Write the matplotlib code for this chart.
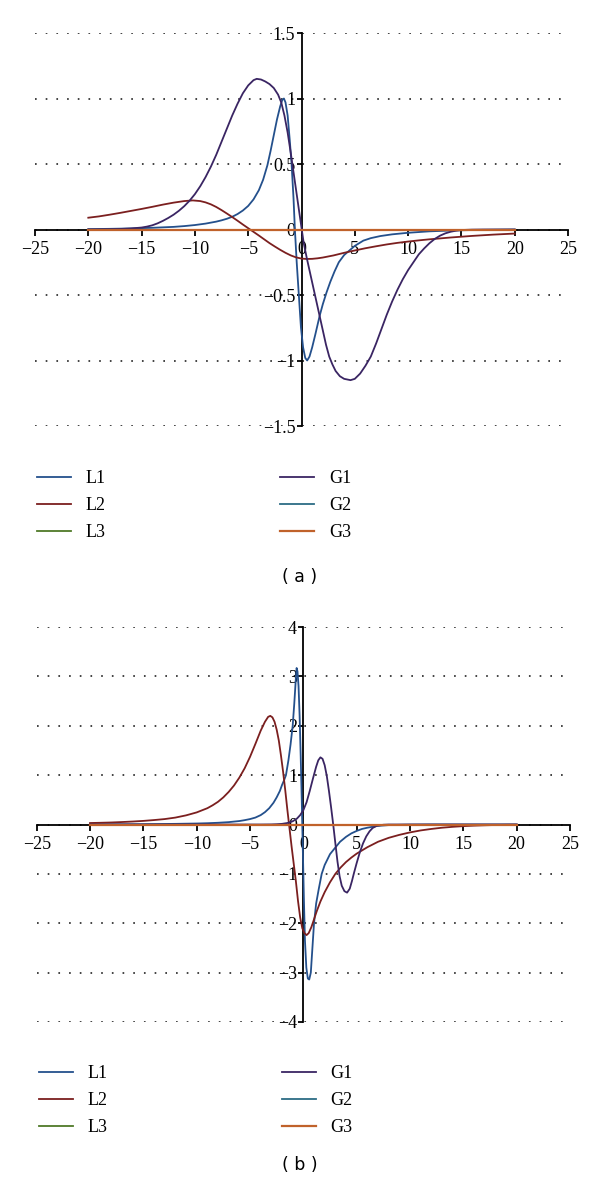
import matplotlib
matplotlib.use("Agg")
import matplotlib.pyplot as plt
from matplotlib.ticker import FixedLocator, FixedFormatter

plt.rcParams['lines.scale_dashes'] = False
plt.rcParams['axes.unicode_minus'] = True

SERIF = 'Liberation Serif'

# ---------------- Panel (a) data ----------------
a_L1_x = [-20, -18, -16, -14, -12, -11, -10, -9, -8, -7.5, -7, -6.5, -6, -5.5, -5, -4.5, -4, -3.6,
          -3.2, -2.9, -2.6, -2.3, -2.0, -1.8, -1.65, -1.5, -1.3, -1.1, -0.93, -0.75, -0.62, -0.45,
          -0.25, -0.05, 0.15, 0.35, 0.53, 0.75, 1.0, 1.3, 1.7, 2.0, 2.35, 2.7, 3.1, 3.5, 4.0, 4.5,
          5.0, 5.8, 6.5, 7.4, 8.5, 10, 12, 14, 16, 20]
a_L1_y = [0.003, 0.005, 0.008, 0.013, 0.02, 0.026, 0.034, 0.045, 0.06, 0.07, 0.082, 0.097, 0.118,
          0.145, 0.18, 0.23, 0.30, 0.38, 0.49, 0.6, 0.72, 0.84, 0.94, 0.99, 1.0, 0.97, 0.87, 0.68,
          0.5, 0.24, 0.0, -0.25, -0.5, -0.75, -0.9, -0.98, -1.0, -0.97, -0.9, -0.8, -0.66, -0.57,
          -0.48, -0.40, -0.32, -0.25, -0.195, -0.16, -0.125, -0.085, -0.066, -0.05, -0.037,
          -0.025, -0.014, -0.008, -0.004, 0.0]

a_L2_x = [-20, -19, -18, -17, -16, -15, -14, -13, -12, -11, -10.2, -9.5, -9, -8.5, -8, -7.5, -7,
          -6.5, -6, -5.5, -5, -4.5, -4, -3.5, -3, -2.5, -2, -1.5, -1, -0.5, 0, 0.5, 1, 1.5, 2, 3,
          4, 5, 6, 7, 8, 9, 10, 11, 12, 13, 14, 15, 16, 17, 18, 19, 20]
a_L2_y = [0.09, 0.10, 0.113, 0.127, 0.142, 0.157, 0.173, 0.19, 0.205, 0.217, 0.222, 0.217, 0.207,
          0.192, 0.172, 0.148, 0.122, 0.095, 0.067, 0.038, 0.01, -0.018, -0.046, -0.075, -0.104,
          -0.13, -0.155, -0.178, -0.198, -0.213, -0.222, -0.225, -0.224, -0.22, -0.214, -0.198,
          -0.178, -0.16, -0.143, -0.128, -0.114, -0.102, -0.092, -0.083, -0.075, -0.068, -0.061,
          -0.055, -0.049, -0.044, -0.039, -0.035, -0.031]

a_G1_x = [-20, -19, -18, -17, -16, -15, -14.5, -14, -13.5, -13, -12.5, -12, -11.5, -11, -10.5,
          -10, -9.5, -9, -8.5, -8, -7.5, -7, -6.5, -6, -5.5, -5, -4.5, -4.2, -3.8, -3.4, -3, -2.6,
          -2.2, -1.9, -1.6, -1.3, -1.0, -0.7, -0.4, -0.1, 0.2, 0.5, 0.8, 1.1, 1.4, 1.7, 2.0, 2.3,
          2.6, 2.9, 3.2, 3.6, 4.0, 4.6, 5.0, 5.5, 6.0, 6.5, 7.0, 7.5, 8.0, 8.5, 9.0, 9.5, 10.0,
          10.5, 11, 11.5, 12, 12.5, 13, 13.5, 14, 14.5, 15, 16, 17, 20]
a_G1_y = [0.0, 0.001, 0.002, 0.004, 0.008, 0.015, 0.022, 0.032, 0.047, 0.066, 0.088, 0.113, 0.143,
          0.178, 0.22, 0.27, 0.33, 0.40, 0.48, 0.57, 0.67, 0.77, 0.87, 0.96, 1.04, 1.10, 1.14, 1.15,
          1.145, 1.13, 1.11, 1.08, 1.03, 0.97, 0.87, 0.74, 0.58, 0.41, 0.24, 0.07, -0.1, -0.22,
          -0.33, -0.44, -0.55, -0.66, -0.77, -0.88, -0.97, -1.03, -1.08, -1.12, -1.14, -1.15,
          -1.14, -1.10, -1.04, -0.97, -0.87, -0.76, -0.65, -0.55, -0.46, -0.38, -0.31, -0.25,
          -0.19, -0.145, -0.105, -0.072, -0.047, -0.029, -0.017, -0.009, -0.004, -0.001, 0.0, 0.0]

a_zero_x = [-20, 20]
a_L3_y = [0, 0]
a_G2_y = [0, 0]
a_G3_y = [0, 0]

# ---------------- Panel (b) data ----------------
b_L1_x = [-20, -18, -16, -14, -12, -10, -9, -8, -7, -6, -5.5, -5, -4.5, -4, -3.6, -3.2, -2.8, -2.5,
          -2.2, -2.0, -1.8, -1.63, -1.4, -1.2, -1.0, -0.85, -0.72, -0.63, -0.55, -0.45, -0.35,
          -0.25, -0.15, -0.05, 0.05, 0.15, 0.28, 0.42, 0.55, 0.7, 0.85, 1.0, 1.2, 1.45, 1.72, 2.0,
          2.5, 2.8, 3.1, 3.44, 4.0, 4.5, 5, 5.5, 6, 6.9, 8, 10, 12, 20]
b_L1_y = [0.0, 0.003, 0.005, 0.008, 0.013, 0.02, 0.026, 0.035, 0.048, 0.07, 0.088, 0.11, 0.14,
          0.19, 0.25, 0.33, 0.44, 0.55, 0.68, 0.8, 0.9, 1.0, 1.3, 1.62, 2.0, 2.45, 2.9, 3.17, 3.1,
          2.8, 2.2, 1.4, 0.5, -0.5, -1.5, -2.35, -2.9, -3.12, -3.14, -3.0, -2.5, -2.0, -1.6, -1.3,
          -1.0, -0.82, -0.6, -0.52, -0.44, -0.35, -0.25, -0.18, -0.13, -0.09, -0.065, -0.03,
          -0.012, -0.003, 0.0, 0.0]

b_L2_x = [-20, -19, -18, -17, -16, -15, -14, -13, -12, -11, -10, -9, -8.5, -8, -7.5, -7, -6.5,
          -6, -5.5, -5, -4.5, -4, -3.6, -3.3, -3.1, -2.9, -2.7, -2.5, -2.3, -2.1, -1.9, -1.7,
          -1.5, -1.34, -1.1, -0.9, -0.7, -0.5, -0.3, -0.1, 0.1, 0.3, 0.5, 0.75, 1.0, 1.25, 1.6,
          2.0, 2.5, 3.0, 3.5, 4, 4.5, 5, 6, 7, 8, 9, 10, 11, 12, 13, 14, 15, 16, 17, 18, 19, 20]
b_L2_y = [0.03, 0.035, 0.041, 0.05, 0.06, 0.073, 0.09, 0.11, 0.14, 0.185, 0.245, 0.33, 0.39, 0.46,
          0.55, 0.66, 0.79, 0.95, 1.14, 1.37, 1.63, 1.9, 2.08, 2.18, 2.2, 2.17, 2.08, 1.92, 1.7,
          1.4, 1.07, 0.7, 0.3, 0.0, -0.45, -0.8, -1.15, -1.55, -1.88, -2.1, -2.2, -2.24, -2.2,
          -2.08, -1.92, -1.76, -1.56, -1.37, -1.17, -1.0, -0.87, -0.76, -0.67, -0.59, -0.46,
          -0.35, -0.27, -0.21, -0.16, -0.12, -0.09, -0.065, -0.047, -0.033, -0.023, -0.016,
          -0.01, -0.007, -0.005]

b_G1_x = [-20, -4, -3, -2.5, -2, -1.5, -1.0, -0.6, -0.3, 0, 0.3, 0.6, 0.9, 1.2, 1.4, 1.6, 1.8,
          2.0, 2.2, 2.4, 2.6, 2.8, 3.0, 3.2, 3.4, 3.6, 3.85, 4.1, 4.35, 4.55, 4.75, 5.0, 5.3, 5.6,
          5.9, 6.2, 6.5, 6.9, 7.5, 8, 20]
b_G1_y = [0, 0, 0.002, 0.006, 0.013, 0.03, 0.065, 0.12, 0.19, 0.29, 0.45, 0.68, 0.93, 1.17, 1.3,
          1.36, 1.33, 1.2, 0.98, 0.68, 0.35, 0.0, -0.38, -0.75, -1.05, -1.24, -1.35, -1.38, -1.3,
          -1.15, -0.98, -0.78, -0.56, -0.38, -0.24, -0.14, -0.07, -0.025, -0.005, 0, 0]

b_zero_x = [-20, 20]
b_L3_y = [0, 0]
b_G2_y = [0, 0]
b_G3_y = [0, 0]

# ---------------- ticks / labels ----------------
x_ticks = [-25, -20, -15, -10, -5, 0, 5, 10, 15, 20, 25]
a_y_ticks = [-1.5, -1, -0.5, 0, 0.5, 1, 1.5]
a_y_labels = ['\u22121.5', '\u22121', '\u22120.5', '0', '0.5', '1', '1.5']
b_y_ticks = [-4, -3, -2, -1, 0, 1, 2, 3, 4]
b_y_labels = ['\u22124', '\u22123', '\u22122', '\u22121', '0', '1', '2', '3', '4']
series_names = ['L1', 'L2', 'L3', 'G1', 'G2', 'G3']

C_L1 = '#24508c'
C_L2 = '#7b1f1f'
C_L3 = '#4f7a28'
C_G1 = '#3a2563'
C_G2 = '#2c6c85'
C_G3 = '#c0622b'

W, H = 600, 1190
fig = plt.figure(figsize=(6, 11.9), dpi=100)


def make_panel(rect, ylim, yticks, ylabels, xz, L1, L2, L3, G1, G2, G3, leg_top, cap_y, cap):
    ax = fig.add_axes(rect)
    ax.set_xlim(-25, 25)
    ax.set_ylim(*ylim)
    lw = 1.3
    h1, = ax.plot(L1[0], L1[1], color=C_L1, lw=lw, zorder=3)
    h2, = ax.plot(L2[0], L2[1], color=C_L2, lw=lw, zorder=3)
    h3, = ax.plot(xz, L3, color=C_L3, lw=lw, zorder=3)
    h4, = ax.plot(G1[0], G1[1], color=C_G1, lw=lw, zorder=3)
    h5, = ax.plot(xz, G2, color=C_G2, lw=lw, zorder=3)
    h6, = ax.plot(xz, G3, color=C_G3, lw=1.6, zorder=4)

    for s in ['top', 'right']:
        ax.spines[s].set_visible(False)
    ax.spines['left'].set_position(('data', 0))
    ax.spines['bottom'].set_position(('data', 0))
    for s in ['left', 'bottom']:
        ax.spines[s].set_linewidth(1.3)
        ax.spines[s].set_color('black')

    ax.xaxis.set_major_locator(FixedLocator(x_ticks))
    ax.yaxis.set_major_locator(FixedLocator(yticks))
    ax.yaxis.set_major_formatter(FixedFormatter(ylabels))
    ax.tick_params(axis='x', direction='out', length=4, width=1.3, pad=4,
                   labelsize=13, labelfontfamily=SERIF)
    ax.tick_params(axis='y', direction='out', length=3.5, width=1.3, pad=1,
                   labelsize=13, labelfontfamily=SERIF)
    ax.grid(axis='y', color='#222222', linestyle=(0, (1.2, 6.5)), linewidth=1.2)
    ax.grid(axis='x', visible=False)
    ax.set_axisbelow(True)
    ax.patch.set_visible(False)

    fig.legend([h1, h2, h3, h4, h5, h6], series_names, loc='upper left',
               bbox_to_anchor=(rect[0] + 2 / W, leg_top), ncol=2, frameon=False,
               prop={'family': SERIF, 'size': 13}, handlelength=1.9, handletextpad=0.8,
               columnspacing=9.65, labelspacing=0.56, borderpad=0, borderaxespad=0)
    fig.text(0.5, cap_y, cap, ha='center', va='center', fontsize=12.5, family='DejaVu Sans')
    return ax


make_panel([35 / W, 1 - 426 / H, 533 / W, 393 / H], (-1.5, 1.5), a_y_ticks, a_y_labels,
           a_zero_x, (a_L1_x, a_L1_y), (a_L2_x, a_L2_y), a_L3_y, (a_G1_x, a_G1_y), a_G2_y, a_G3_y,
           1 - 470 / H, 1 - 577 / H, '( a )')
make_panel([36.7 / W, 1 - 1022 / H, 533.3 / W, 395 / H], (-4, 4), b_y_ticks, b_y_labels,
           b_zero_x, (b_L1_x, b_L1_y), (b_L2_x, b_L2_y), b_L3_y, (b_G1_x, b_G1_y), b_G2_y, b_G3_y,
           1 - 1065 / H, 1 - 1165 / H, '( b )')

fig.savefig('out.png', dpi=100)
